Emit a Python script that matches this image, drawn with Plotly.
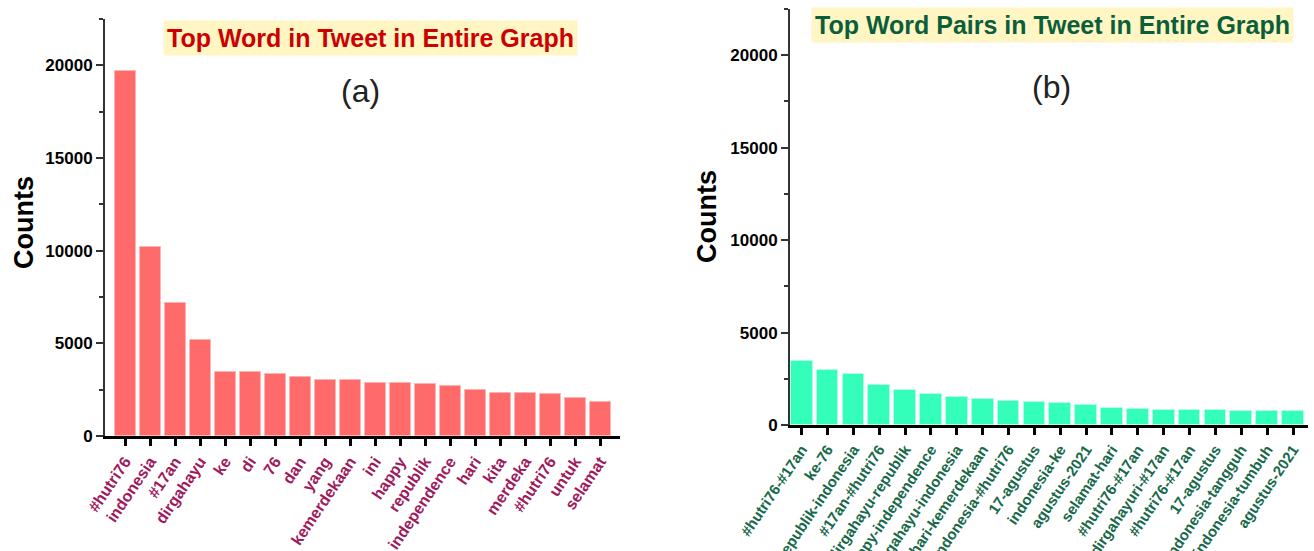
import plotly.graph_objects as go

# Top single words (panel a)
word_labels = ["#hutri76", "indonesia", "#17an", "dirgahayu", "ke", "di", "76", "dan", "yang",
               "kemerdekaan", "ini", "happy", "republik", "independence", "hari", "kita",
               "merdeka", "#hutri76", "untuk", "selamat"]
word_counts = [19680, 10200, 7150, 5170, 3450, 3440, 3350, 3170, 3045, 3025,
               2880, 2870, 2810, 2685, 2485, 2320, 2320, 2270, 2070, 1840]

# Top word pairs (panel b)
pair_labels = ["#hutri76-#17an", "ke-76", "republik-indonesia", "#17an-#hutri76",
               "dirgahayu-republik", "happy-independence", "dirgahayu-indonesia",
               "hari-kemerdekaan", "indonesia-#hutri76", "17-agustus", "indonesia-ke",
               "agustus-2021", "selamat-hari", "#hutri76-#17an", "#dirgahayuri-#17an",
               "#hutri76-#17an", "17-agustus", "indonesia-tangguh", "indonesia-tumbuh",
               "agustus-2021"]
pair_counts = [3440, 2975, 2760, 2165, 1890, 1660, 1530, 1405, 1300, 1245,
               1170, 1080, 920, 850, 820, 795, 790, 775, 770, 755]

y_ticks = [0, 5000, 10000, 15000, 20000]

W, H = 1314, 551
FONT = "Liberation Sans, Arial, sans-serif"

fig = go.Figure()

fig.add_trace(go.Bar(
    x=list(range(len(word_counts))), y=word_counts, width=0.84,
    marker=dict(color="#FF6B6B", line=dict(color="#FFB3B3", width=1)),
    xaxis="x", yaxis="y", showlegend=False,
))
fig.add_trace(go.Bar(
    x=list(range(len(pair_counts))), y=pair_counts, width=0.84,
    marker=dict(color="#33FFBB", line=dict(color="#B0FFE4", width=1)),
    xaxis="x2", yaxis="y2", showlegend=False,
))


def px_x(v):
    return v / W


def px_y(v):
    return 1 - v / H


common_x = dict(
    showline=True, linecolor="black", linewidth=3,
    ticks="outside", ticklen=7, tickwidth=3, tickcolor="black",
    tickmode="array", tickvals=list(range(20)),
    tickangle=-56, showgrid=False, zeroline=False, automargin=False,
)
common_y = dict(
    range=[0, 22500], showline=True, linecolor="#333333", linewidth=2,
    ticks="outside", ticklen=7, tickwidth=1.5, tickcolor="#333333",
    tickmode="array", tickvals=y_ticks, ticktext=[str(v) for v in y_ticks],
    minor=dict(ticks="outside", dtick=2500, ticklen=4, tickwidth=1.5, tickcolor="#333333"),
    tickfont=dict(family=FONT, size=17, color="black", weight="bold"),
    showgrid=False, zeroline=False, automargin=False,
)


def label(text, x, y, size, color, bold=True, bg=None, angle=0, pad=0):
    return dict(
        text=text, xref="paper", yref="paper", x=px_x(x), y=px_y(y),
        xanchor="center", yanchor="middle", showarrow=False, textangle=angle,
        bgcolor=bg, borderpad=pad,
        font=dict(family=FONT, size=size, color=color, weight="bold" if bold else "normal"),
    )


fig.update_layout(
    width=W, height=H,
    margin=dict(l=0, r=0, t=0, b=0, autoexpand=False),
    paper_bgcolor="white", plot_bgcolor="white",
    bargap=0,
    xaxis=dict(common_x, domain=[px_x(105), px_x(620)], range=[-0.8, 19.8], anchor="y",
               ticktext=word_labels,
               tickfont=dict(family=FONT, size=16, color="#9E1A5C", weight="bold")),
    yaxis=dict(common_y, domain=[px_y(436), px_y(19)], anchor="x"),
    xaxis2=dict(common_x, domain=[px_x(790), px_x(1308)], range=[-0.45, 19.58], anchor="y2",
                ticktext=pair_labels,
                tickfont=dict(family=FONT, size=15, color="#17694A", weight="bold")),
    yaxis2=dict(common_y, domain=[px_y(425), px_y(9)], anchor="x2"),
    annotations=[
        label("Top Word in Tweet in Entire Graph", 370, 38, 25, "#CC0000", bg="#FFF6C4", pad=3),
        label("Top Word Pairs in Tweet in Entire Graph", 1052, 25, 25, "#0B5E3A", bg="#FFF6C4", pad=3),
        label("(a)", 360, 91, 32, "#222222", bold=False),
        label("(b)", 1051, 87, 32, "#222222", bold=False),
        label("Counts", 24, 223, 27, "black", angle=-90),
        label("Counts", 707, 217, 27, "black", angle=-90),
    ],
)

fig.write_html("out.html")
